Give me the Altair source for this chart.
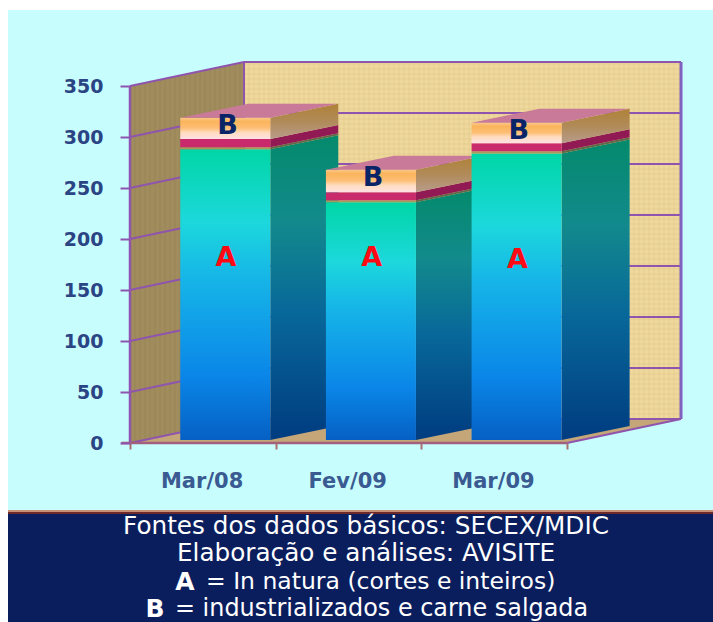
import altair as alt
import numpy as np
import pandas as pd

# Stacked exports per period, in axis units
categories = ["Mar/08", "Fev/09", "Mar/09"]
in_natura = [285, 233, 281]
ind_base = [2, 2, 2]
ind_mid = [8, 8, 8]
ind_top = [21, 22, 20]
y_ticks = [0, 50, 100, 150, 200, 250, 300, 350]
slot_ticks = [0, 1, 2, 3]
label_a_y = [181, 181, 179]
footer_lines = [
    "Fontes dos dados básicos: SECEX/MDIC",
    "Elaboração e análises: AVISITE",
]

# Scale layout: one x unit is a category slot, y is the value axis
SLOT_PX = 145.67
UNIT_PX = 1.02
X_DOMAIN = [-130 / SLOT_PX, 583 / SLOT_PX]
Y_DOMAIN = [-179 / UNIT_PX, 443 / UNIT_PX]
BAR_START, BAR_W = 0.345, 0.618
BAR_DX, BAR_DY = 68 / SLOT_PX, 14 / UNIT_PX
BAR_BASE = 3 / UNIT_PX
WALL_DX, WALL_DY = 114 / SLOT_PX, 24 / UNIT_PX
PURPLE = "#8F55AE"

# Real axes carrying the ticks and value labels, shared by every layer
y_axis = alt.Axis(
    values=y_ticks, offset=-130, domain=False, grid=False, zindex=1, tickSize=10, tickWidth=2, tickColor=PURPLE,
    labelFont="DejaVu Sans", labelFontWeight="bold", labelFontSize=19, labelColor="#2A4484", labelPadding=17,
)
x_axis = alt.Axis(
    values=slot_ticks, offset=-179, domain=False, grid=False, zindex=1, labels=False, tickSize=6, tickWidth=2,
    tickColor="#A86E70",
)
X = lambda f="x": alt.X(f"{f}:Q", scale=alt.Scale(domain=X_DOMAIN, nice=False, zero=False), axis=x_axis, title=None)
Y = lambda f="y": alt.Y(f"{f}:Q", scale=alt.Scale(domain=Y_DOMAIN, nice=False, zero=False), axis=y_axis, title=None)


def grad(*stops):
    return alt.Gradient(
        gradient="linear", x1=0, x2=0, y1=0, y2=1,
        stops=[alt.GradientStop(color=c, offset=o) for o, c in stops],
    )


def band(xs, lows, highs, fill):
    # Vertical parallelogram between two x positions
    df = pd.DataFrame({"x": xs, "y": lows, "y2": highs})
    return alt.Chart(df).mark_area(fill=fill, line=False, stroke=None).encode(
        x=X(), y=Y(), y2="y2:Q"
    )


def flat(ys, lefts, rights, fill, opacity=1):
    # Horizontal parallelogram between two y levels
    df = pd.DataFrame({"y": ys, "x": lefts, "x2": rights})
    return alt.Chart(df).mark_area(fill=fill, orient="horizontal", opacity=opacity).encode(
        y=Y(), x=X(), x2="x2:Q"
    )


def page_rect(x, x2, y, y2, fill):
    df = pd.DataFrame({"k": [0]})
    return alt.Chart(df).mark_rect(fill=fill).encode(
        x=alt.value(x), x2=alt.value(x2), y=alt.value(y), y2=alt.value(y2)
    )


def page_text(text, x, y, size, weight="normal", align="center", font="DejaVu Sans", color="#FFFFFF"):
    df = pd.DataFrame({"t": [text]})
    return alt.Chart(df).mark_text(
        font=font, fontSize=size, fontWeight=weight, align=align, baseline="middle", color=color
    ).encode(text="t:N", x=alt.value(x), y=alt.value(y))


layers = [page_rect(8, 713, 10, 514, "#C8FDFD")]

# Chart walls and floor
top = 350
layers.append(band([WALL_DX, 3 + WALL_DX], [WALL_DY] * 2, [top + WALL_DY] * 2, "#EFD89C"))
layers.append(band([0, WALL_DX], [0, WALL_DY], [top, top + WALL_DY], "#A08C5C"))
layers.append(flat([0, WALL_DY], [0, WALL_DX], [3, 3 + WALL_DX], "#C4A678"))

# Woven texture on the two walls
weave_v = pd.DataFrame({"x": np.arange(WALL_DX, 3 + WALL_DX, 5 / SLOT_PX)})
weave_v["y"] = WALL_DY
weave_v["y2"] = top + WALL_DY
layers.append(alt.Chart(weave_v).mark_rule(color="#B89858", opacity=0.07, strokeWidth=2).encode(x=X(), y=Y(), y2="y2:Q"))
weave_h = pd.DataFrame({"y": np.arange(WALL_DY, top + WALL_DY, 5 / UNIT_PX)})
weave_h["x"] = WALL_DX
weave_h["x2"] = 3 + WALL_DX
layers.append(alt.Chart(weave_h).mark_rule(color="#B89858", opacity=0.07, strokeWidth=2).encode(y=Y(), x=X(), x2="x2:Q"))
side_v = pd.DataFrame({"x": np.arange(0, WALL_DX, 5 / SLOT_PX)})
side_v["y"] = side_v["x"] * WALL_DY / WALL_DX
side_v["y2"] = side_v["y"] + top
layers.append(alt.Chart(side_v).mark_rule(color="#6E5C34", opacity=0.08, strokeWidth=2).encode(x=X(), y=Y(), y2="y2:Q"))

# Gridlines along the back wall and across the left wall
grid_back = pd.DataFrame({"v": y_ticks})
grid_back["y"] = grid_back["v"] + WALL_DY
grid_back["x"] = WALL_DX
grid_back["x2"] = 3 + WALL_DX
layers.append(alt.Chart(grid_back).mark_rule(color=PURPLE, strokeWidth=2).encode(y=Y(), x=X(), x2="x2:Q"))
grid_left = pd.DataFrame(
    [{"v": v, "x": 0, "y": v} for v in y_ticks] + [{"v": v, "x": WALL_DX, "y": v + WALL_DY} for v in y_ticks]
)
layers.append(alt.Chart(grid_left).mark_line(color=PURPLE, strokeWidth=2).encode(x=X(), y=Y(), detail="v:N"))

# Frame edges
edges = pd.DataFrame({"x": [WALL_DX], "y": [WALL_DY], "y2": [top + WALL_DY]})
layers.append(alt.Chart(edges).mark_rule(color=PURPLE, strokeWidth=2).encode(x=X(), y=Y(), y2="y2:Q"))
right_edge = pd.DataFrame({"x": [3 + WALL_DX], "y": [WALL_DY], "y2": [top + WALL_DY]})
layers.append(alt.Chart(right_edge).mark_rule(color="#8060C0", strokeWidth=3).encode(x=X(), y=Y(), y2="y2:Q"))
floor_edge = pd.DataFrame({"x": [3, 3 + WALL_DX], "y": [0, WALL_DY]})
layers.append(alt.Chart(floor_edge).mark_line(color=PURPLE, strokeWidth=2).encode(x=X(), y=Y()))
y_line = pd.DataFrame({"x": [0], "y": [0], "y2": [top]})
layers.append(alt.Chart(y_line).mark_rule(color=PURPLE, strokeWidth=2.5).encode(x=X(), y=Y(), y2="y2:Q"))
base_line = pd.DataFrame({"x": [-0.06], "x2": [3], "y": [0]})
layers.append(alt.Chart(base_line).mark_rule(color="#A0607E", strokeWidth=2.5).encode(x=X(), x2="x2:Q", y=Y()))

# Colours of each stacked piece: front face, side face
A_FRONT = grad((0, "#00D6A6"), (0.25, "#1CD8DC"), (0.45, "#16B4E8"), (0.78, "#0A86E8"), (1, "#0660C4"))
A_SIDE = grad((0, "#048A6C"), (0.28, "#128A8C"), (0.58, "#08689A"), (1, "#003C80"))
TOP_FRONT = grad((0, "#F8C888"), (0.18, "#FBB45C"), (0.48, "#FDBE74"), (0.7, "#FFDDC0"), (1, "#FFE0E4"))
TOP_SIDE = grad((0, "#B08238"), (0.5, "#B08A58"), (1, "#B89C8C"))

for i in range(len(categories)):
    x0 = i + BAR_START
    x1 = x0 + BAR_W
    pieces = [
        (in_natura[i], A_FRONT, A_SIDE),
        (ind_base[i], "#A89A5C", "#5E6A48"),
        (ind_mid[i], "#C82A6C", "#921A54"),
        (ind_top[i], TOP_FRONT, TOP_SIDE),
    ]
    lo = BAR_BASE
    for value, front, side in pieces:
        hi = lo + value
        layers.append(band([x1, x1 + BAR_DX], [lo, lo + BAR_DY], [hi, hi + BAR_DY], side))
        layers.append(band([x0, x1], [lo, lo], [hi, hi], front))
        lo = hi
    layers.append(flat([lo, lo + BAR_DY], [x0, x0 + BAR_DX], [x1, x1 + BAR_DX], "#C87A98"))

# Segment letters on the bars
letters_a = pd.DataFrame({"x": [i + BAR_START + BAR_W * 0.5 + 0.005 for i in range(3)], "y": label_a_y, "t": "A"})
layers.append(alt.Chart(letters_a).mark_text(
    font="DejaVu Sans", fontWeight="bold", fontSize=27, color="#FF0A14", baseline="middle"
).encode(x=X(), y=Y(), text="t:N"))
totals = [a + b + c + d for a, b, c, d in zip(in_natura, ind_base, ind_mid, ind_top)]
letters_b = pd.DataFrame({"x": [i + BAR_START + BAR_W * 0.5 + 0.015 for i in range(3)], "y": [t - 5 for t in totals], "t": "B"})
layers.append(alt.Chart(letters_b).mark_text(
    font="DejaVu Sans", fontWeight="bold", fontSize=27, color="#0A2468", baseline="middle"
).encode(x=X(), y=Y(), text="t:N"))

# Category labels under the front edge
cat_df = pd.DataFrame({"x": [i + 0.495 for i in range(3)], "y": [-38] * 3, "t": categories})
layers.append(alt.Chart(cat_df).mark_text(
    font="DejaVu Sans", fontWeight="bold", fontSize=21, color="#3A5A92", baseline="middle"
).encode(x=X(), y=Y(), text="t:N"))

# Footer panel with source notes
layers += [
    page_rect(8, 713, 510, 512, "#C89078"),
    page_rect(8, 713, 512, 514, "#6E2A2A"),
    page_rect(8, 713, 514, 622, "#0A1E5E"),
    page_text(footer_lines[0], 366, 527, 24.7),
    page_text(footer_lines[1], 366, 554, 24.7),
    page_text("A", 185, 582, 25, weight="bold"),
    page_text("= In natura (cortes e inteiros)", 206, 582, 23.5, align="left"),
    page_text("B", 155, 609, 25, weight="bold"),
    page_text("= industrializados e carne salgada", 175, 609, 23.9, align="left"),
]

chart = alt.layer(*layers).properties(
    width=713, height=622, padding=0,
    autosize=alt.AutoSizeParams(type="none"), background="#FFFFFF",
).configure_view(stroke=None)

chart.save("out.html", embed_options={"renderer": "svg", "actions": False})
